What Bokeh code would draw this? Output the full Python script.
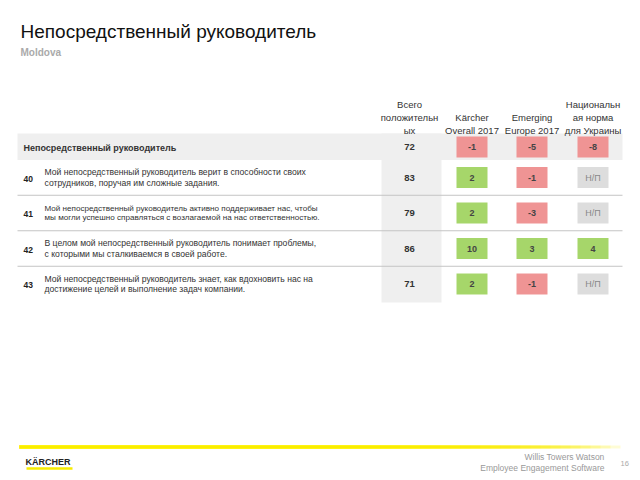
from bokeh.plotting import figure
from bokeh.models import ColumnDataSource, Range1d
from bokeh.core.properties import value
from bokeh.embed import file_html
from bokeh.resources import INLINE
import numpy as np

# ---------------- data ----------------
title = "Непосредственный руководитель"
subtitle = "Moldova"
col_headers = [
    ["Всего", "положительн", "ых"],
    ["Kärcher", "Overall 2017"],
    ["Emerging", "Europe 2017"],
    ["Национальн", "ая норма", "для Украины"],
]
section_label = "Непосредственный руководитель"
section_values = [72, -1, -5, -8]   # positive, Kärcher, Emerging, National

item_ids = ["40", "41", "42", "43"]
item_texts = [
    ["Мой непосредственный руководитель верит в способности своих",
     "сотрудников, поручая им сложные задания."],
    ["Мой непосредственный руководитель активно поддерживает нас, чтобы",
     "мы могли успешно справляться с возлагаемой на нас ответственностью."],
    ["В целом мой непосредственный руководитель понимает проблемы,",
     "с которыми мы сталкиваемся в своей работе."],
    ["Мой непосредственный руководитель знает, как вдохновить нас на",
     "достижение целей и выполнение задач компании."],
]
positive = [83, 79, 86, 71]
karcher_diff = [2, 2, 10, 2]
emerging_diff = [-1, -3, 3, -1]
national_diff = [None, None, 4, None]
na_label = "Н/П"

# ---------------- style / layout ----------------
FONT = value("Liberation Sans")
GREEN = "#a6d66a"
RED = "#ef9494"
NA = "#dddddd"
BAND = "#efefef"
YELLOW = "#f7ec00"

W, H = 640, 480
p = figure(width=W, height=H, x_range=Range1d(0, W), y_range=Range1d(H, 0),
           output_backend="svg", toolbar_location=None, min_border=0)
p.axis.visible = False
p.grid.visible = False
p.outline_line_color = None
p.background_fill_color = "white"

left, right = 17, 622
head_y = 146.5
row0, row_step = 177.0, 35.5
rows_y = [row0 + i * row_step for i in range(len(item_ids))]
col_x = [409, 471.5, 531.5, 592.5]
box_w, box_h = 31, 21

# value column band + section header band
p.quad(left=[381], right=[441], top=[133], bottom=[302], fill_color=BAND, line_color=None)
p.quad(left=[left], right=[right], top=[133], bottom=[159.5], fill_color=BAND, line_color=None)

# separators
seps = [(rows_y[i] + rows_y[i + 1]) / 2 for i in range(len(rows_y) - 1)]
p.segment(x0=[left] * len(seps), x1=[right] * len(seps), y0=seps, y1=seps,
          line_color="#c4c4c4", line_width=1)

# title
p.text(x=[20], y=[31], text=[title], text_font=FONT, text_font_size="19px",
       text_color="#111111", text_baseline="middle")
p.text(x=[20], y=[52], text=[subtitle], text_font=FONT, text_font_size="10px",
       text_font_style="bold", text_color="#aaaaaa", text_baseline="middle")

# column headers (bottom aligned)
hx, hy, ht = [], [], []
for cx, lines in zip(col_x, col_headers):
    n = len(lines)
    for j, ln in enumerate(lines):
        hx.append(cx)
        hy.append(129.5 - (n - 1 - j) * 13)
        ht.append(ln)
p.text(x=hx, y=hy, text=ht, text_font=FONT, text_font_size="9.5px", text_color="#333333",
       text_align="center", text_baseline="middle")

# section header row
p.text(x=[23], y=[head_y + 1], text=[section_label], text_font=FONT, text_font_size="9px",
       text_font_style="bold", text_color="#333333", text_baseline="middle")


def color_for(v):
    if v is None:
        return NA
    return GREEN if v > 0 else RED


def label_for(v):
    return na_label if v is None else str(v)


# build cell sources
bx, by, bc, bt, btc, bts = [], [], [], [], [], []
diffs_rows = [section_values[1:]] + [list(t) for t in zip(karcher_diff, emerging_diff, national_diff)]
ys_all = [head_y] + rows_y
for y, diffs in zip(ys_all, diffs_rows):
    for cx, v in zip(col_x[1:], diffs):
        bx.append(cx)
        by.append(y)
        bc.append(color_for(v))
        bt.append(label_for(v))
        btc.append("#888888" if v is None else "#444444")
        bts.append("normal" if v is None else "bold")

cells = ColumnDataSource(dict(x=bx, y=by, c=bc, t=bt, tc=btc, ts=bts))
p.rect(x="x", y="y", width=box_w, height=box_h, fill_color="c", line_color=None, source=cells)
p.text(x="x", y="y", text="t", text_color="tc", text_font_style="ts", text_font=FONT,
       text_font_size="9px", text_align="center", text_baseline="middle", source=cells)

# positive values
pos_src = ColumnDataSource(dict(x=[col_x[0]] * (1 + len(positive)), y=ys_all,
                                t=[str(v) for v in [section_values[0]] + positive]))
p.text(x="x", y="y", text="t", source=pos_src, text_font=FONT, text_font_size="9.5px",
       text_font_style="bold", text_color="#333333", text_align="center", text_baseline="middle")

# item ids
p.text(x=[23] * len(item_ids), y=[y + 1 for y in rows_y], text=item_ids, text_font=FONT,
       text_font_size="8.5px", text_font_style="bold", text_color="#222222",
       text_baseline="middle")

# item texts
tx, ty, tt, tfs = [], [], [], []
for i, (y, lines) in enumerate(zip(rows_y, item_texts)):
    small = i == 1
    gap = 8.5 if small else 10.5
    fs = "8.1px" if small else "8.6px"
    for j, ln in enumerate(lines):
        tx.append(44)
        ty.append(y - gap / 2 + j * gap)
        tt.append(ln)
        tfs.append(fs)
txt = ColumnDataSource(dict(x=tx, y=ty, t=tt, fs=tfs))
p.text(x="x", y="y", text="t", text_font_size="fs", source=txt, text_font=FONT,
       text_color="#333333", text_baseline="middle")

# footer: fading yellow line (stacked translucent segments -> smooth gradient)
n = 30
ends = np.linspace(620, 330, n)
p.segment(x0=[19] * n, x1=ends, y0=[446.5] * n, y1=[446.5] * n,
          line_color=YELLOW, line_alpha=0.16, line_width=3)

p.text(x=[25], y=[461], text=["KÄRCHER"], text_font=FONT, text_font_size="9px",
       text_font_style="bold", text_color="#222222", text_baseline="middle")
p.segment(x0=[26], x1=[72], y0=[468], y1=[468], line_color=YELLOW, line_width=2.5)

p.text(x=[604, 604], y=[456.5, 467.5],
       text=["Willis Towers Watson", "Employee Engagement Software"],
       text_font=FONT, text_font_size="8.5px", text_color="#999999",
       text_align="right", text_baseline="middle")
p.text(x=[620], y=[463], text=["16"], text_font=FONT, text_font_size="7.5px",
       text_color="#aaaaaa", text_baseline="middle")

open("out.html", "w").write(file_html(p, INLINE))
